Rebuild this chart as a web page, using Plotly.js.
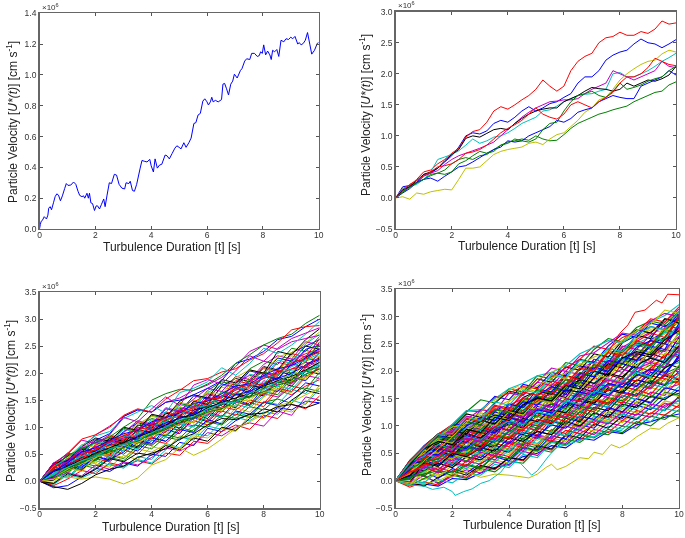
<!DOCTYPE html>
<html><head><meta charset="utf-8">
<script src="https://cdn.plot.ly/plotly-3.0.1.min.js"></script>
<style>html,body{margin:0;padding:0;background:#fff}#c{width:685px;height:538px;filter:blur(0.35px)}</style>
</head><body><div id="c"></div>
<script>
const palette=['#0000ff','#007f00','#ff0000','#00bfbf','#bf00bf','#bfbf00','#000000'];
const xTickVals=[0,2,4,6,8,10];
const yTicksA=[0,0.2,0.4,0.6,0.8,1.0,1.2,1.4];
const yTicksB=[-0.5,0,0.5,1,1.5,2,2.5,3];
const yTicksC=[-0.5,0,0.5,1,1.5,2,2.5,3,3.5];
const xTitle='Turbulence Duration [t] [s]';
const yTitle='Particle Velocity [<i>U*(t)</i>] [cm s<sup>-1</sup>]';

// panel 1: one particle (units of 1e6)
const t1=[0,.03,.06,.1,.17,.25,.3,.33,.38,.43,.5,.56,.62,.68,.75,.82,.9,.96,1.02,1.12,1.22,1.3,1.38,1.44,1.52,1.58,1.62,1.7,1.75,1.79,1.84,1.9,1.97,2.03,2.08,2.15,2.22,2.3,2.35,2.42,2.5,2.58,2.68,2.76,2.85,2.95,3.05,3.1,3.2,3.25,3.33,3.4,3.48,3.6,3.67,3.75,3.85,3.95,4.0,4.08,4.14,4.22,4.3,4.38,4.5,4.57,4.65,4.75,4.85,4.92,5.0,5.07,5.17,5.25,5.35,5.43,5.53,5.6,5.68,5.76,5.85,5.92,6.0,6.05,6.12,6.17,6.22,6.3,6.4,6.52,6.57,6.63,6.7,6.77,6.85,6.92,6.98,7.08,7.2,7.25,7.35,7.42,7.53,7.6,7.7,7.8,7.87,7.92,7.98,8.03,8.1,8.17,8.25,8.3,8.35,8.42,8.5,8.57,8.65,8.75,8.83,8.92,9.0,9.07,9.15,9.25,9.3,9.37,9.45,9.52,9.6,9.68,9.75,9.85,9.95,10];
const u1=[0,.03,.05,.055,.08,.065,.09,.135,.145,.125,.17,.21,.228,.22,.183,.215,.262,.295,.283,.285,.305,.29,.245,.218,.21,.215,.2,.232,.2,.232,.17,.165,.12,.15,.15,.13,.16,.195,.145,.22,.3,.295,.355,.35,.29,.265,.26,.3,.295,.31,.25,.245,.29,.39,.445,.44,.435,.452,.41,.37,.455,.395,.415,.42,.48,.475,.455,.49,.525,.54,.53,.52,.56,.53,.56,.59,.685,.69,.74,.75,.83,.845,.825,.805,.825,.855,.825,.835,.825,.84,.94,.945,.91,.87,.94,.96,1.005,.98,1.03,1.04,1.09,1.105,1.1,1.14,1.14,1.12,1.125,1.15,1.14,1.195,1.13,1.155,1.13,1.1,1.16,1.15,1.165,1.12,1.225,1.215,1.235,1.23,1.245,1.235,1.25,1.2,1.21,1.195,1.205,1.225,1.275,1.2,1.135,1.16,1.205,1.21];

// panel 2: ten particles, every 0.25 s (units of 1e4)
const t2=[0,.25,.5,.75,1,1.25,1.5,1.75,2,2.25,2.5,2.75,3,3.25,3.5,3.75,4,4.25,4.5,4.75,5,5.25,5.5,5.75,6,6.25,6.5,6.75,7,7.25,7.5,7.75,8,8.25,8.5,8.75,9,9.25,9.5,9.75,10];
const u2=[
[0,18,20,25,38,40,48,58,68,82,100,105,103,108,120,125,122,130,140,147,140,145,152,155,162,168,185,195,195,205,222,230,235,238,248,256,250,248,242,248,255],
[0,10,18,25,30,38,40,45,55,62,65,62,68,70,78,85,90,92,95,93,100,95,92,93,102,112,120,125,130,135,138,142,145,148,155,160,165,170,172,182,187],
[0,15,20,30,42,45,55,62,72,80,98,107,110,122,140,147,143,150,158,165,175,190,180,172,180,205,220,228,233,250,258,260,267,262,262,268,265,272,285,280,282],
[0,15,18,22,30,42,62,66,70,76,85,95,88,92,98,100,105,112,120,125,130,140,142,148,155,160,165,167,168,172,175,200,202,195,195,200,205,212,220,226,233],
[0,12,18,24,35,40,44,54,62,68,72,76,80,85,90,100,110,120,130,138,145,150,155,156,158,158,160,168,175,180,185,205,200,195,190,195,200,205,220,212,210],
[0,2,-2,8,6,10,12,14,13,30,48,48,50,60,70,75,78,80,82,88,90,86,95,102,105,115,125,138,145,158,162,175,190,200,208,215,220,222,232,238,235],
[0,13,18,28,38,42,48,60,70,78,96,100,98,104,110,112,110,120,128,135,140,143,145,145,155,160,165,172,178,176,175,172,175,185,180,185,190,188,192,198,212],
[0,8,15,25,30,32,27,35,42,50,52,58,65,72,78,82,92,90,92,100,105,110,115,125,122,128,138,142,145,155,160,165,162,160,160,180,185,190,195,205,198],
[0,9,17,24,30,36,40,38,42,55,60,68,75,72,75,85,88,95,92,90,95,110,120,122,140,155,165,168,172,165,162,172,185,175,178,182,188,192,195,205,212],
[0,11,22,28,36,42,50,52,55,62,72,74,78,85,95,105,112,118,125,135,145,135,130,127,135,150,155,150,145,155,162,170,185,195,195,200,210,225,220,215,213]
];

// panels 3 and 4: every 0.5 s (units of 1e4)
const t3=[0,.5,1,1.5,2,2.5,3,3.5,4,4.5,5,5.5,6,6.5,7,7.5,8,8.5,9,9.5,10];
const u3=[
[0,-12,-8,8,24,18,34,28,50,46,72,66,98,92,112,124,118,136,132,148,145],
[0,22,16,34,28,48,42,66,60,82,76,96,110,104,124,118,146,152,144,172,166],
[0,8,26,20,42,36,58,50,76,70,92,112,104,130,122,146,138,168,160,176,188],
[0,-6,12,6,18,32,24,46,40,70,62,88,84,110,128,120,148,142,170,162,195],
[0,18,36,30,52,44,62,74,68,92,110,102,128,120,146,140,162,156,182,196,190],
[0,4,22,38,32,26,48,40,64,58,84,78,112,106,136,128,156,170,164,192,210],
[0,26,20,44,56,50,72,64,90,84,108,124,116,144,136,164,158,184,176,204,198],
[0,12,30,24,46,40,54,76,70,96,88,118,110,134,150,142,172,166,192,186,214],
[0,-4,18,30,24,44,38,60,82,74,100,92,124,118,148,140,166,160,190,204,220],
[0,28,40,38,60,54,78,70,96,90,116,108,134,128,154,168,160,190,182,212,206],
[0,10,6,28,48,62,56,80,74,102,94,126,120,146,138,166,182,174,202,196,226],
[0,16,38,50,44,66,60,84,100,92,122,114,142,136,160,154,186,178,208,220,214],
[0,20,14,36,58,52,74,68,94,112,104,130,124,152,144,176,168,198,190,222,232],
[0,2,28,22,40,60,68,62,86,106,98,128,140,134,162,156,180,192,186,216,228],
[0,30,28,48,64,58,82,76,104,98,120,116,146,140,172,164,194,188,218,210,238],
[0,14,34,46,40,70,64,90,84,110,128,122,150,144,170,184,176,206,200,228,222],
[0,24,42,36,62,56,86,80,108,102,132,126,156,148,178,172,200,194,224,236,244],
[0,6,24,52,46,74,68,94,88,118,112,140,134,164,158,186,180,210,204,232,250],
[0,28,48,42,68,78,72,100,94,124,136,130,160,154,182,196,190,220,214,242,236],
[0,-2,32,54,70,64,88,82,112,106,138,150,144,174,168,192,208,202,232,226,256],
[0,32,30,56,50,80,74,104,98,126,120,148,142,176,190,184,212,206,238,250,244],
[0,12,40,58,72,66,92,108,102,134,128,158,152,180,174,204,198,228,222,250,262],
[0,32,52,46,76,70,98,92,122,116,144,138,168,184,178,208,222,216,246,240,268],
[0,-8,4,20,14,34,28,38,32,52,48,74,70,92,104,96,122,116,142,134,158],
[0,18,10,26,38,30,26,40,34,58,82,76,102,96,118,112,128,124,150,142,172],
[0,6,16,10,30,22,36,30,44,62,56,68,90,84,100,108,102,130,122,156,150],
[0,24,18,40,34,50,44,60,54,68,60,84,80,98,92,122,116,134,128,144,178],
[0,-4,14,8,22,42,36,52,48,66,58,80,74,100,94,116,134,128,150,168,162],
[0,20,32,26,46,38,64,56,80,74,96,90,114,106,130,124,146,140,158,182,176],
[0,10,28,44,38,58,50,72,66,86,80,104,100,122,116,138,132,154,176,170,202],
[0,26,40,34,54,48,70,86,78,100,94,120,112,138,132,150,144,172,166,194,208],
[0,16,8,32,52,46,66,60,88,82,106,100,126,118,142,136,158,176,170,198,216],
[0,32,34,56,50,74,68,88,82,108,104,126,122,150,144,168,162,186,180,210,224],
[0,12,24,18,44,66,60,78,92,86,114,108,136,130,152,148,176,170,196,188,234],
[0,30,46,60,54,76,70,96,90,112,106,132,138,158,152,178,172,204,196,230,240],
[0,8,36,30,58,72,84,78,106,100,130,124,154,148,174,168,196,190,216,244,252],
[0,34,34,62,56,82,76,102,116,110,134,142,136,166,160,188,202,196,226,220,258],
[0,22,50,44,66,84,78,110,104,128,122,146,162,156,186,180,210,204,236,230,264],
[0,14,26,50,74,68,96,90,114,108,142,136,164,178,172,198,192,224,218,254,272],
[0,34,30,60,78,72,90,112,106,136,130,152,172,166,194,188,216,232,226,258,252],
[0,16,44,68,62,86,80,106,120,114,146,140,166,160,192,206,200,230,238,256,276],
[0,34,38,64,80,74,100,94,124,118,148,160,154,188,182,206,200,240,234,262,282],
[0,20,30,44,56,68,64,84,94,108,116,126,132,148,160,166,178,190,200,214,226],
[0,10,24,36,50,58,70,74,88,98,112,118,130,142,150,158,172,182,188,204,212],
[0,24,32,42,60,66,76,92,96,114,120,134,144,150,164,176,180,198,208,212,230],
[0,14,34,46,54,70,82,86,102,110,124,136,140,156,170,174,192,196,212,224,236],
[0,28,36,52,64,72,80,98,108,116,132,138,150,158,168,186,194,202,216,232,242],
[0,4,22,32,44,52,66,72,84,94,106,110,126,136,140,154,164,170,186,192,204],
[0,18,28,40,52,62,72,82,92,104,118,122,136,146,154,162,176,186,194,206,220],
[0,30,38,54,62,76,88,94,110,118,126,144,148,162,176,180,196,208,214,228,246],
[0,6,20,34,48,54,62,78,86,96,108,116,128,134,148,156,166,178,184,198,208],
[0,26,42,50,58,74,84,96,100,120,128,136,152,154,172,178,190,200,220,226,240],
[0,12,26,38,46,60,68,76,90,100,114,120,134,144,146,164,170,184,198,202,218],
[0,6,36,62,86,102,120,132,128,146,154,168,178,192,212,240,252,244,258,264,270],
[0,4,8,4,8,4,-5,6,30,40,62,48,60,78,98,110,124,140,146,160,172],
[0,-10,-15,-4,12,22,28,44,52,60,78,88,104,116,114,124,126,138,142,136,145],
[0,18,34,54,76,88,120,132,128,146,150,160,172,186,218,226,240,262,268,286,300],
[0,24,48,60,72,82,100,116,150,162,170,168,180,196,218,234,252,264,272,292,307],
[0,30,52,78,86,100,122,134,128,152,168,186,190,202,208,224,236,256,280,286,288],
[0,28,42,66,84,92,116,128,140,126,164,172,184,210,196,218,246,236,252,272,296],
[0,34,50,76,70,86,118,110,134,156,140,178,188,180,204,232,222,246,264,274,284]
];
const u4=[
[0,-8,-6,-10,4,2,14,24,30,44,50,64,60,78,74,90,86,102,108,116,122],
[0,14,8,-4,10,4,22,16,36,32,58,52,76,70,88,84,100,96,118,112,130],
[0,-12,-2,-8,12,6,26,20,42,36,62,56,82,74,94,88,110,104,124,120,138],
[0,6,-8,2,-4,14,10,30,24,48,42,70,64,86,80,100,94,114,108,132,126],
[0,-6,10,-6,8,20,14,34,28,54,46,74,68,92,84,106,100,122,116,138,146],
[0,16,2,12,6,24,18,38,32,58,52,78,72,98,90,112,106,128,122,146,140],
[0,-3,-10,6,18,10,28,22,42,38,64,58,84,78,104,96,118,112,134,128,154],
[0,8,18,4,22,14,32,44,36,60,56,82,76,102,96,122,114,138,130,152,160],
[0,-9,4,16,10,28,22,46,40,66,60,88,82,108,100,126,120,144,136,162,156],
[0,20,12,24,16,36,30,50,44,70,64,94,86,112,106,132,124,150,144,168,176],
[0,2,-4,18,30,22,40,34,56,50,78,70,100,92,118,112,136,130,156,150,172],
[0,12,26,14,32,26,46,38,60,54,82,76,104,98,124,116,144,138,162,156,184],
[0,-6,16,8,28,42,34,54,48,72,66,92,110,102,130,122,150,142,170,164,190],
[0,24,18,32,24,44,38,58,52,78,90,84,114,108,134,128,156,148,176,192,184],
[0,4,22,36,28,50,42,64,58,84,78,108,102,126,140,134,162,156,182,174,200],
[0,18,8,28,44,36,56,50,72,66,96,90,118,110,146,138,166,178,170,196,208],
[0,-2,30,20,38,54,48,68,62,92,84,114,126,120,150,142,172,166,192,186,196],
[0,28,14,38,32,58,50,72,90,82,106,100,130,124,154,168,160,184,178,208,216],
[0,10,24,42,36,48,62,78,70,98,92,120,136,128,160,152,182,174,202,196,224],
[0,32,26,44,58,52,74,66,88,106,100,128,122,150,144,174,188,180,208,200,178],
[0,-4,34,28,50,44,68,60,92,84,112,104,134,146,140,170,162,194,186,216,206],
[0,22,36,30,46,64,58,82,76,102,118,110,140,132,166,158,182,200,192,222,232],
[0,6,18,46,40,60,54,84,78,108,100,124,116,154,146,176,170,198,212,206,240],
[0,30,28,50,64,56,80,74,98,92,120,114,146,138,168,184,176,208,200,232,226],
[0,14,40,34,56,72,66,92,84,112,104,136,130,160,152,186,178,210,224,216,248],
[0,26,44,38,60,54,84,76,106,98,126,142,134,166,158,190,204,196,228,240,234],
[0,-8,16,26,48,42,68,86,80,110,102,128,122,156,170,164,196,188,218,212,254],
[0,28,30,54,46,70,62,90,104,96,128,140,132,170,162,194,186,218,232,224,262],
[0,8,38,48,66,58,88,80,114,106,136,128,162,176,168,200,214,206,238,250,242],
[0,30,32,52,70,62,94,86,116,108,140,152,144,180,172,206,198,230,244,236,270],
[0,18,46,42,64,78,72,100,92,126,118,150,164,156,188,180,214,226,218,252,276],
[0,30,24,56,74,68,96,112,104,134,126,158,150,186,178,210,224,216,248,260,284],
[0,32,38,62,54,80,74,104,118,110,142,134,168,180,172,206,220,234,226,258,250],
[0,12,48,58,76,70,92,120,112,144,156,148,176,192,184,216,232,224,256,268,290],
[0,33,34,66,58,86,98,90,124,116,148,160,152,188,200,192,226,220,250,262,296],
[0,20,52,46,72,84,78,110,122,114,152,146,178,172,206,198,236,228,258,272,302],
[0,34,42,68,82,76,102,94,130,124,156,168,162,194,208,200,234,248,240,276,268],
[0,24,54,50,78,90,84,116,128,120,160,154,186,180,214,208,240,256,248,280,308],
[0,30,58,74,68,92,106,100,132,146,140,172,166,198,192,224,218,250,264,256,286],
[0,28,60,78,72,96,110,104,138,150,144,176,170,204,218,210,244,258,272,290,314],
[0,35,44,72,88,82,108,122,114,148,142,178,172,208,202,234,228,262,276,270,300],
[0,30,60,56,84,98,92,126,118,152,164,158,192,186,222,216,252,266,260,296,292],
[0,34,48,80,76,100,114,128,140,134,168,162,196,210,204,238,232,268,282,276,306],
[0,6,12,18,14,30,24,46,40,62,54,72,66,84,78,94,88,108,100,120,116],
[0,16,24,16,34,28,52,44,68,60,80,72,92,86,102,118,110,128,122,142,134],
[0,26,20,36,30,52,46,60,54,76,68,90,82,96,112,106,122,114,134,128,148],
[0,-4,26,20,42,34,52,46,70,64,84,78,100,92,110,104,126,120,140,134,152],
[0,30,30,44,40,54,48,62,58,80,74,86,104,96,116,108,132,124,144,160,154],
[0,10,32,26,50,44,60,54,78,72,90,84,108,100,124,116,140,134,154,148,166],
[0,32,36,50,44,62,56,74,68,88,82,102,96,118,112,134,126,150,142,170,164],
[0,2,42,34,54,48,70,64,82,76,98,110,104,126,120,144,136,160,152,176,182],
[0,33,40,60,52,72,64,84,78,98,92,116,108,132,126,150,142,166,158,186,178],
[0,24,48,42,62,56,78,72,92,86,108,102,124,116,142,134,156,148,176,170,194],
[0,34,46,66,60,76,70,90,84,106,100,122,116,140,132,158,152,174,168,192,204],
[0,28,56,50,70,64,86,80,100,94,118,112,134,128,150,146,168,162,188,182,212],
[0,34,50,72,66,86,78,98,92,114,108,130,124,150,142,166,160,184,178,206,220],
[0,28,58,54,76,70,92,88,108,102,124,118,144,136,162,156,178,172,198,192,230],
[0,35,56,76,72,94,86,106,100,122,116,140,132,158,152,176,170,194,190,216,238],
[0,30,60,60,80,74,98,92,114,110,132,126,150,146,170,164,188,182,206,228,246],
[0,35,60,82,76,98,92,112,108,130,124,150,142,168,160,186,180,202,226,218,256],
[0,32,62,62,86,82,104,100,122,116,140,134,158,154,178,172,198,222,214,240,264],
[0,35,62,84,80,104,96,118,112,136,130,156,150,176,170,196,218,210,236,230,272],
[0,33,58,68,90,86,110,104,128,122,148,142,166,162,188,214,206,232,226,252,280],
[0,36,64,85,84,108,102,126,120,144,138,164,158,186,208,200,226,220,246,240,288],
[0,30,60,70,94,90,114,110,134,128,154,150,174,198,190,218,212,240,234,262,296],
[0,36,62,84,88,112,108,132,126,152,146,170,192,184,212,204,234,228,256,250,304],
[0,34,60,74,98,94,120,114,138,134,160,186,178,204,198,228,222,250,244,272,268],
[0,36,62,85,92,118,112,138,132,158,180,174,200,194,222,216,246,240,266,284,278],
[0,33,58,78,100,98,124,118,144,170,162,192,186,214,208,238,232,260,280,274,292],
[0,37,62,86,96,122,116,142,164,158,186,180,208,202,232,226,256,276,270,296,288],
[0,34,60,84,102,102,128,154,148,176,170,198,192,222,216,246,268,262,288,282,298],
[0,37,63,85,100,126,148,142,168,162,192,186,216,210,240,260,254,280,292,286,310],
[0,35,60,85,103,128,126,152,160,172,168,190,206,222,246,240,262,272,296,290,318],
[0,36,62,80,103,128,130,150,168,178,192,198,210,232,244,256,252,272,290,302,322],
[0,33,60,84,90,112,130,126,160,156,180,206,200,228,234,252,270,266,292,306,300],
[0,30,56,80,98,104,118,134,146,160,174,188,196,212,226,236,256,274,286,312,306],
[0,28,50,64,60,90,108,120,114,140,150,146,170,184,178,196,190,212,224,216,246],
[0,32,44,58,52,82,74,94,116,108,130,124,138,162,156,178,172,192,204,198,226],
[0,22,34,40,62,56,76,70,90,104,96,120,114,136,130,152,146,168,184,176,210],
[0,14,28,34,52,46,60,82,76,94,112,106,122,114,148,140,160,154,174,194,186],
[0,34,44,66,58,80,74,96,110,102,126,120,146,140,164,158,184,198,190,214,232],
[0,26,50,44,68,78,72,98,92,118,132,126,150,144,172,184,178,204,216,208,242],
[0,35,50,74,68,92,106,100,126,120,148,142,172,166,194,188,218,210,238,250,258],
[0,30,58,72,66,94,88,116,110,138,152,146,174,168,200,194,224,236,230,258,274],
[0,36,58,82,78,100,116,110,140,134,156,172,164,196,190,220,214,244,256,250,282],
[0,32,60,80,76,108,102,130,124,146,166,160,184,178,212,206,238,252,246,276,294],
[0,36,62,84,84,114,108,136,130,162,156,182,176,206,200,234,228,254,270,262,300],
[0,34,60,85,86,116,110,144,138,166,160,194,188,220,214,242,236,266,282,276,310]
];
// individually visible outliers of panel 4: [times, values], units of 1e4
const t4a=[0,.5,1,1.5,2,2.5,3,3.5,4,4.3,4.7,5,5.3,5.5,5.7,6,6.5,6.8,7,7.3,7.6,7.9,8.2,8.5,9,9.3,9.6,10];
const u4a=[0,-4,-6,0,12,16,6,12,10,8,5,12,24,30,20,26,42,40,52,48,66,60,68,80,96,94,105,115];
const t4b=[0,.5,1,1.3,1.7,2,2.1,2.4,2.7,3,3.3,3.7,4,4.4,4.8,5,5.4,5.7,6,6.5,7,7.5,8];
const u4b=[0,-8,-10,-16,-12,-20,-27,-20,-15,-5,0,15,35,32,10,18,45,62,65,74,80,90,92];
const t4c=[0,.5,1,1.5,2,2.3,2.6,3,3.3,3.6,4,4.3,4.6,5,5.5,6];
const u4c=[0,14,36,58,80,96,112,126,142,150,165,172,165,185,198,212];
const t4d=[0,1,2,3,4,5,6,6.5,7,7.5,7.9,8.2,8.45,8.8,9.2,9.4,9.6,10];
const u4d=[0,30,60,85,112,145,175,190,205,235,269,285,308,312,330,325,341,340];

const panels=[
 {xd:[39.5,318.7],yd:[13.3,229],r:[0,1.4],ticks:yTicksA,tx:[171.5,247],ty:[12,122]},
 {xd:[395.7,676],yd:[11.7,229],r:[-0.5,3],ticks:yTicksB,tx:[527,246],ty:[365,115]},
 {xd:[39.7,319.7],yd:[292,508.3],r:[-0.5,3.5],ticks:yTicksC,tx:[171,527],ty:[10,401]},
 {xd:[395.7,679],yd:[289.3,508],r:[-0.5,3.5],ticks:yTicksC,tx:[532,525],ty:[366,395]}
];
const FONT='Liberation Sans, Arial, sans-serif';
const W=685,H=538,traces=[],layout={width:W,height:H,margin:{l:0,r:0,t:0,b:0},showlegend:false,paper_bgcolor:'#fff',plot_bgcolor:'#fff',annotations:[]};
function add(p,x,y,i,scale,w){traces.push({type:'scatter',mode:'lines',xaxis:p===0?'x':'x'+(p+1),yaxis:p===0?'y':'y'+(p+1),x:x,y:y.map(v=>v/scale),line:{color:palette[i%7],width:w,simplify:false},hoverinfo:'skip'});}
add(0,t1,u1,0,1,1);
u2.forEach((r,i)=>add(1,t2,r,i,100,1));
u3.forEach((r,i)=>add(2,t3,r,i,100,1));
u4.forEach((r,i)=>add(3,t3,r,i,100,1.1));
add(3,t4a,u4a,5,100,1);add(3,t4b,u4b,3,100,1);add(3,t4c,u4c,5,100,1);add(3,t4d,u4d,2,100,1);
panels.forEach((p,i)=>{
 const s=i===0?'':String(i+1);
 const common={showgrid:false,zeroline:false,showline:true,mirror:'ticks',ticks:'inside',ticklen:3,tickwidth:1,tickcolor:'#555',linecolor:'#666',linewidth:1.4,
   tickfont:{family:FONT,size:8.5,color:'#333'}};
 layout['xaxis'+s]=Object.assign({},common,{domain:[p.xd[0]/W,p.xd[1]/W],range:[0,10],tickvals:xTickVals,ticktext:xTickVals.map(String),anchor:'y'+s,ticklabelstandoff:-3});
 layout['yaxis'+s]=Object.assign({},common,{domain:[1-p.yd[1]/H,1-p.yd[0]/H],range:p.r,tickvals:p.ticks,tickformat:'.1f',anchor:'x'+s});
 layout.annotations.push({xref:'paper',yref:'paper',x:(p.xd[0]+1)/W,y:1-(p.yd[0]-0.5)/H,xanchor:'left',yanchor:'bottom',showarrow:false,text:'×10<sup>6</sup>',font:{family:FONT,size:8,color:'#333'},borderpad:0});
 layout.annotations.push({xref:'paper',yref:'paper',x:p.tx[0]/W,y:1-p.tx[1]/H,xanchor:'center',yanchor:'middle',showarrow:false,text:xTitle,font:{family:FONT,size:12,color:'#222'},borderpad:0});
 layout.annotations.push({xref:'paper',yref:'paper',x:p.ty[0]/W,y:1-p.ty[1]/H,xanchor:'center',yanchor:'middle',textangle:-90,showarrow:false,text:yTitle,font:{family:FONT,size:12,color:'#222'},borderpad:0});
});
Plotly.newPlot('c',traces,layout,{staticPlot:true,displayModeBar:false});
</script></body></html>
